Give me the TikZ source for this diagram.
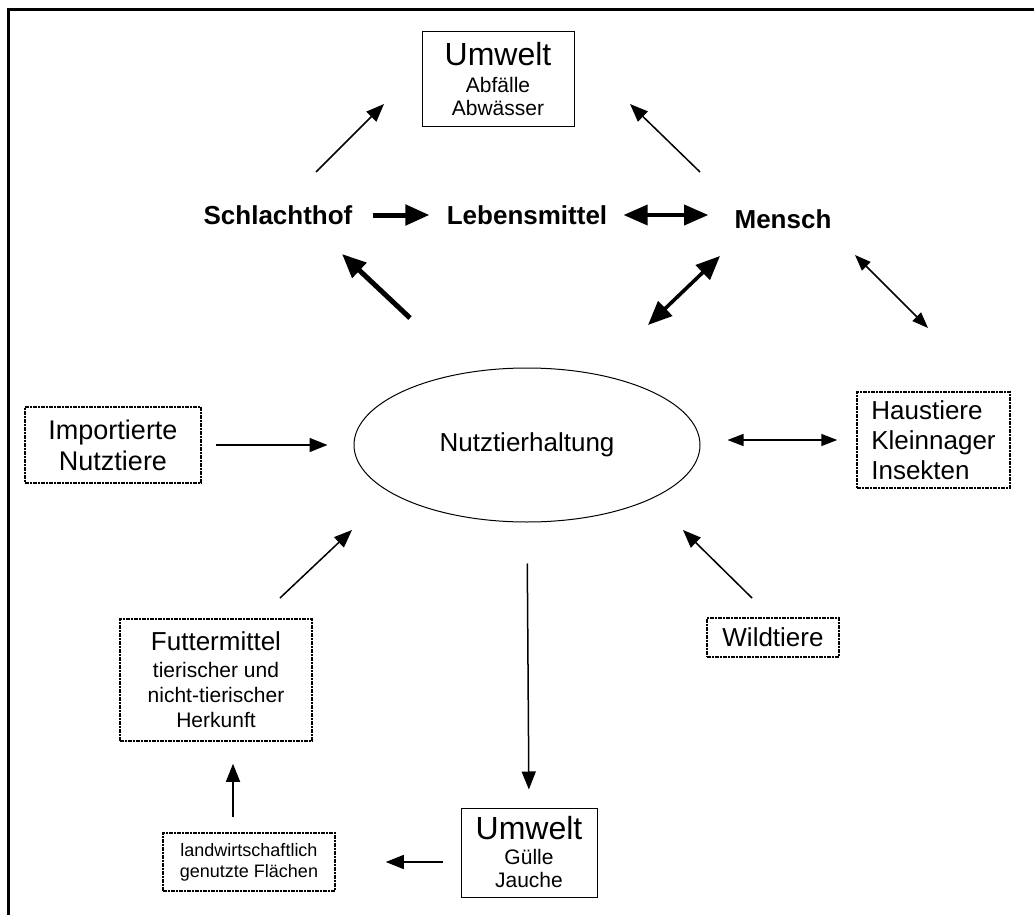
\documentclass[tikz,border=0pt]{standalone}
\usepackage{fontspec}
\setmainfont{Liberation Sans}
\usepackage{tikz}
\usetikzlibrary{arrows.meta,shapes.geometric}

\tikzset{
  solidbox/.style={draw,line width=0.5pt,align=center,inner sep=0pt},
  dotbox/.style={draw,line width=0.75pt,dash pattern=on 2pt off 0.7pt on 0.6pt off 0.7pt,align=center,inner sep=0pt},
  boldlbl/.style={font=\bfseries\fontsize{13}{15}\selectfont,inner sep=0pt},
  thinarr/.style={line width=0.75pt,-{Triangle[length=9pt,width=7pt]}},
  thinboth/.style={line width=0.75pt,{Triangle[length=8pt,width=6pt]}-{Triangle[length=8pt,width=6pt]}},
  thickarr/.style={line width=2.5pt,-{Triangle[length=12pt,width=10pt]}},
  thickboth/.style={line width=1.8pt,{Triangle[length=12pt,width=10pt]}-{Triangle[length=12pt,width=10pt]}}
}
\newcommand{\bigline}[1]{{\fontsize{16}{16}\selectfont #1}}

\begin{document}
\begin{tikzpicture}[x=0.5pt,y=-0.5pt,line cap=butt]
  \useasboundingbox (0,0) rectangle (1034,915);
  % frame (top and left only)
  \draw[line width=1.5pt] (8,915) -- (8,10) -- (1034,10);

  % --- upper row ---
  \node[solidbox,minimum width=76pt,minimum height=47.5pt,font=\fontsize{10.5}{11.5}\selectfont]
    (umwelttop) at (498,79.5) {\bigline{Umwelt}\\[2pt]Abfälle\\Abwässer};
  \node[boldlbl] (schlacht) at (278,215) {Schlachthof};
  \node[boldlbl] (lebens) at (527,215) {Lebensmittel};
  \node[boldlbl] (mensch) at (783,219) {Mensch};

  % --- centre ---
  \node[ellipse,draw,line width=0.5pt,minimum width=173pt,minimum height=77pt,inner sep=0pt,
    font=\fontsize{13}{15}\selectfont] (haltung) at (527,445) {Nutztierhaltung};

  % --- sources (dotted boxes) ---
  \node[dotbox,minimum width=88pt,minimum height=38pt,font=\fontsize{13.5}{15.5}\selectfont]
    (import) at (113,445) {Importierte\\Nutztiere};
  \node[dotbox,align=left,minimum width=76.5pt,minimum height=48pt,font=\fontsize{13}{15}\selectfont]
    (haus) at (933.5,440) {Haustiere\\Kleinnager\\Insekten};
  \node[dotbox,minimum width=96pt,minimum height=61pt,font=\fontsize{10.5}{12.5}\selectfont]
    (futter) at (216,680) {{\fontsize{13}{13}\selectfont Futtermittel}\\[1pt]tierischer und\\nicht-tierischer\\Herkunft};
  \node[dotbox,minimum width=66pt,minimum height=19.5pt,font=\fontsize{13}{15}\selectfont]
    (wild) at (773,637.5) {Wildtiere};
  \node[dotbox,minimum width=86pt,minimum height=29pt,font=\fontsize{9}{10.5}\selectfont]
    (flaeche) at (249,862) {landwirtschaftlich\\genutzte Flächen};

  % --- lower environment ---
  \node[solidbox,minimum width=68pt,minimum height=44.5pt,font=\fontsize{10.5}{11.5}\selectfont]
    (umweltbot) at (529,852.5) {\bigline{Umwelt}\\[1pt]Gülle\\Jauche};

  % free ends of the slanted arrows
  \coordinate (a1) at (316,172);  \coordinate (b1) at (384,104);
  \coordinate (a2) at (700,172);  \coordinate (b2) at (630,104);
  \coordinate (a3) at (410,318);  \coordinate (b3) at (342,254);
  \coordinate (a4) at (648,325);  \coordinate (b4) at (720,256);
  \coordinate (a5) at (855,255);  \coordinate (b5) at (928,328);
  \coordinate (a6) at (280,598);  \coordinate (b6) at (352,530);
  \coordinate (a7) at (752,598);  \coordinate (b7) at (683,530);

  % slanted arrows
  \draw[thinarr] (a1) -- (b1);
  \draw[thinarr] (a2) -- (b2);
  \draw[thickarr] (a3) -- (b3);
  \draw[thickboth] (a4) -- (b4);
  \draw[thinboth] (a5) -- (b5);
  \draw[thinarr] (a6) -- (b6);
  \draw[thinarr] (a7) -- (b7);

  % straight arrows between nodes
  \draw[thickarr,shorten <=10pt,shorten >=8.5pt] (schlacht) -- (lebens);
  \draw[thickboth,shorten <=8pt,shorten >=13pt] (lebens.east) -- (mensch.west |- lebens.east);
  \draw[thinarr,shorten <=7pt,shorten >=13pt] (import) -- (import -| haltung.west);
  \draw[thinboth,shorten <=13.5pt,shorten >=9.5pt] (haltung.east |- haus) -- (haus.west);
  \draw[thinarr,shorten <=20.5pt,shorten >=9pt] (haltung.south) -- (umweltbot.north);
  \draw[thinarr,shorten <=9pt,shorten >=25pt] (umweltbot.west |- flaeche) -- (flaeche.east);
  \draw[thinarr,shorten <=7.5pt,shorten >=11pt] (flaeche.north -| 233,0) -- (futter.south -| 233,0);
\end{tikzpicture}
\end{document}
